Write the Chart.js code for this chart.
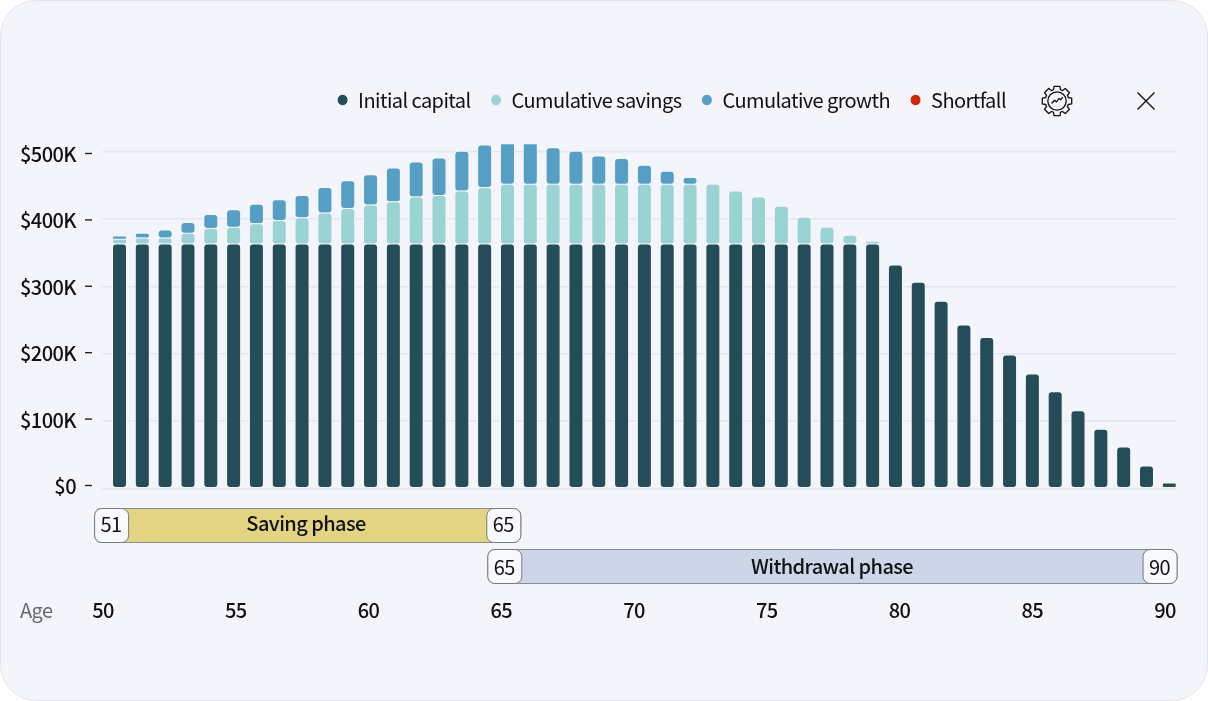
<!DOCTYPE html>
<html><head><meta charset="utf-8">
<style>
html,body{margin:0;padding:0;background:#fff;width:1208px;height:701px;overflow:hidden}
#card{position:absolute;left:0;top:0;width:1206px;height:699px;background:#f4f5fb;border:1px solid #e4e5ed;border-radius:36px}
canvas{position:absolute;left:0;top:0}
svg{position:absolute;overflow:visible}
</style>
<script src="https://cdn.jsdelivr.net/npm/chart.js@4"></script>
</head><body>
<div id="card"></div>
<canvas id="c" width="1208" height="701" style="width:1208px;height:701px"></canvas>
<svg id="gear" style="left:1041px;top:85px" width="32" height="32" viewBox="0 0 32 32" fill="none" stroke="#111" stroke-width="1.3" stroke-linejoin="round">
<path id="gearPath"/><circle cx="16" cy="16" r="9.2"/><path d="M10.5 18.5l3-3.2 2 1.6 2.4-3.4 1.6 1.2 2.2-2.4"/></svg>
<svg style="left:1137px;top:92px" width="18" height="18" viewBox="0 0 18 18" stroke="#111" stroke-width="1.4"><path d="M0.5 0.5L17.5 17.5M17.5 0.5L0.5 17.5"/></svg>
<script>
const FONT = "'Noto Sans CJK KR','Noto Sans',sans-serif";
const barLabels = [1,2,3,4,5,6,7,8,9,10,11,12,13,14,15,16,17,18,19,20,21,22,23,24,25,26,27,28,29,30,31,32,33,34,35,36,37,38,39,40,41,42,43,44,45,46,47];
const initialCapital = [362.8,362.8,362.8,362.8,362.8,362.8,362.8,362.8,362.8,362.8,362.8,362.8,362.8,362.8,362.8,362.8,362.8,362.8,362.8,362.8,362.8,362.8,362.8,362.8,362.8,362.8,362.8,362.8,362.8,362.8,362.8,362.8,362.8,362.8,331.6,306,277.7,242.5,224,198,169.8,143.5,115.3,87.6,61.3,33,8];
const cumulativeSavings = [7,9,9,16,23,25,30,35,39,46,53,58,63,70,72,79,84,89,89,89,89,89,89,89,89,89,89,79,70,56,40,25,13,4,0,0,0,0,0,0,0,0,0,0,0,0,0];
const cumulativeGrowth = [5,7,12,16,21,26,29,31,33,38,41,45,50,52,56,59,63,66,66,54,49,42,38,28,19,10,0,0,0,0,0,0,0,0,0,0,0,0,0,0,0,0,0,0,0,0,0];
const shortfall = [0,0,0,0,0,0,0,0,0,0,0,0,0,0,0,0,0,0,0,0,0,0,0,0,0,0,0,0,0,0,0,0,0,0,0,0,0,0,0,0,0,0,0,0,0,0,0];
const yTicks = [0,100,200,300,400,500];
const ageTicks = [50,55,60,65,70,75,80,85,90];
const phaseNames = ["Saving phase","Withdrawal phase"];
const phaseStarts = [51,65];
const phaseEnds = [65,90];

// gear outline for the settings icon
(function(){
  const n=8,R=15,r=11.8;let d="";
  for(let i=0;i<n;i++){
    const a=i*2*Math.PI/n-Math.PI/2,w=0.2,g=0.3;
    const p=[[r,a-g],[R,a-w],[R,a+w],[r,a+g]];
    p.forEach((q,j)=>{d+=(i==0&&j==0?"M":"L")+(16+q[0]*Math.cos(q[1])).toFixed(2)+" "+(16+q[0]*Math.sin(q[1])).toFixed(2)+" ";});
  }
  document.getElementById("gearPath").setAttribute("d",d+"Z");
})();

const phaseLook = [
 {fill:"#e3d484",top:508.5,h:34,leftNudge:-35,rightNudge:19.5,center:306,textY:523.5},
 {fill:"#cdd6e8",top:549.5,h:34,leftNudge:-13.5,rightNudge:12,center:832,textY:566.5}
];
const SPACING="-0.58px";
function rr(ctx,x,y,w,h,r){ctx.beginPath();ctx.roundRect(x,y,w,h,r);}
const noPad=s=>{s.paddingLeft=s.paddingRight=s.paddingTop=s.paddingBottom=0;};
const extras = {
  id:"extras",
  beforeUpdate(chart){chart.ctx.letterSpacing=SPACING;},
  beforeDraw(chart){chart.ctx.letterSpacing=SPACING;},
  afterLayout(chart){
    const l=chart.legend; if(!l) return;
    const h=l.bottom-l.top;
    l.right=1026; l.top=101-20-11; l.bottom=l.top+h;
  },
  afterDraw(chart){
    const ctx=chart.ctx, y2=chart.scales.y2, age=chart.scales.age;
    ctx.save();
    ctx.strokeStyle="#222"; ctx.lineWidth=1.4;
    yTicks.forEach(v=>{const p=y2.getPixelForValue(v)+0.5;ctx.beginPath();ctx.moveTo(85,p);ctx.lineTo(92,p);ctx.stroke();});
    ctx.textAlign="center";ctx.textBaseline="middle";
    phaseNames.forEach((name,i)=>{
      const s=phaseLook[i];
      const x0=age.getPixelForValue(phaseStarts[i])+s.leftNudge;
      const x1=age.getPixelForValue(phaseEnds[i])+s.rightNudge;
      rr(ctx,x0,s.top,x1-x0,s.h,7);ctx.fillStyle=s.fill;ctx.fill();
      ctx.strokeStyle="#8b8d94";ctx.lineWidth=1;ctx.stroke();
      ctx.fillStyle="#111";ctx.font="500 20px "+FONT;
      ctx.fillText(name,s.center,s.textY);
      [[x0,phaseStarts[i]],[x1-34,phaseEnds[i]]].forEach(b=>{
        rr(ctx,b[0],s.top,34,s.h,7);ctx.fillStyle="#f8f9fd";ctx.fill();
        ctx.strokeStyle="#77797f";ctx.stroke();
        ctx.fillStyle="#111";ctx.font="400 20px "+FONT;
        ctx.fillText(String(b[1]),b[0]+16.5,s.textY+1);
      });
    });
    ctx.fillStyle="#666a70";ctx.font="400 20px "+FONT;ctx.textAlign="left";
    ctx.fillText("Age",20,age.top+122);
    ctx.restore();
  }
};

const halo="#f4f5fb";
function ds(label,data,color){
  return {label,data:data.map(v=>v||null),backgroundColor:color,borderColor:halo,borderWidth:1,borderSkipped:false,inflateAmount:0.5,
    borderRadius:{topLeft:4,topRight:4,bottomLeft:4,bottomRight:4},barThickness:14,xAxisID:"x",yAxisID:"y",stack:"a"};
}
const chart = new Chart(document.getElementById("c"),{
  type:"bar",
  plugins:[extras],
  data:{labels:barLabels,datasets:[
    ds("Initial capital",initialCapital,"#244d58"),
    ds("Cumulative savings",cumulativeSavings,"#9ad3d4"),
    ds("Cumulative growth",cumulativeGrowth,"#559ec4"),
    ds("Shortfall",shortfall,"#d0270c")
  ]},
  options:{
    responsive:false,devicePixelRatio:1,animation:false,
    layout:{autoPadding:false,padding:{left:0,right:31,top:0,bottom:0}},
    plugins:{
      tooltip:{enabled:false},
      legend:{display:true,position:"top",align:"end",
        labels:{usePointStyle:true,pointStyle:"circle",pointStyleWidth:11,boxHeight:8,padding:20,color:"#111",font:{family:FONT,size:20}}}
    },
    scales:{
      x:{type:"linear",display:false,offset:false,stacked:true,min:0.233,max:47.337,afterFit:noPad},
      y:{type:"linear",position:"left",stacked:true,min:0,max:511,
        grid:{color:"#e6e7ee",lineWidth:1.5,drawTicks:false},border:{display:false},
        afterBuildTicks(s){s.ticks=yTicks.map(v=>({value:v}));},
        ticks:{display:false},afterFit(s){s.width=0;noPad(s);},weight:0},
      y2:{axis:"y",type:"linear",position:"left",min:-4.97,max:513.1,
        grid:{display:false,drawTicks:false},border:{display:false},
        afterBuildTicks(s){s.ticks=yTicks.map(v=>({value:v}));},
        afterFit(s){s.width=102;noPad(s);},
        ticks:{padding:26,labelOffset:1.5,color:"#111",autoSkip:false,font:{family:FONT,size:20,weight:"500"},
          callback:v=>"$"+v+(v?"K":"")}},
      age:{axis:"x",type:"linear",position:"bottom",offset:false,min:49.96,max:90.45,
        grid:{display:false,drawTicks:false},border:{display:false},
        afterBuildTicks(s){s.ticks=ageTicks.map(v=>({value:v}));},
        afterFit(s){s.height=212.7;noPad(s);},
        ticks:{padding:110,color:"#111",autoSkip:false,maxRotation:0,font:{family:FONT,size:20,weight:"500"}}}
    }
  }
});
chart.options.layout.padding.top += 144.3-chart.chartArea.top;
chart.update();
</script>
</body></html>
